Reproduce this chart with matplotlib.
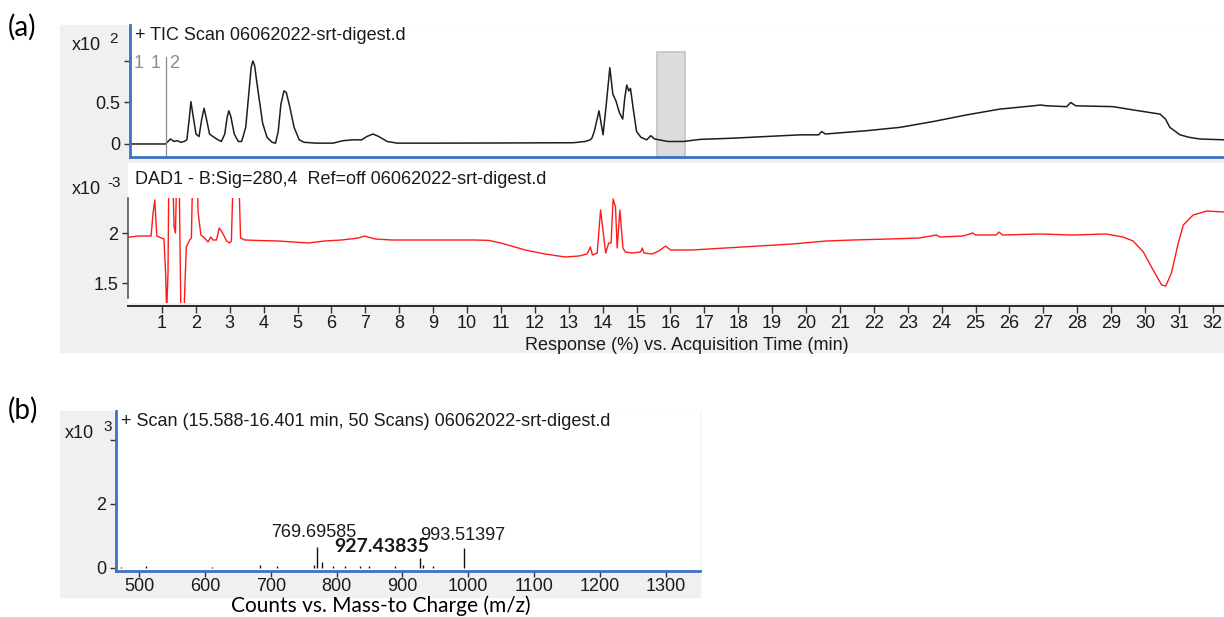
import matplotlib
matplotlib.use("Agg")
import matplotlib.pyplot as plt
from matplotlib.patches import Rectangle

# ── data ────────────────────────────────────────────────────────────────────
# TIC (x10^2)
tic_t = [0, 1.05, 1.12, 1.2, 1.3, 1.4, 1.5, 1.6, 1.68, 1.75, 1.8, 1.86, 1.95, 2.04,
         2.12, 2.19, 2.26, 2.35, 2.45, 2.6, 2.7, 2.8, 2.87, 2.92, 2.98, 3.08, 3.2,
         3.3, 3.42, 3.52, 3.58, 3.63, 3.68, 3.78, 3.92, 4.05, 4.2, 4.3, 4.38, 4.46,
         4.55, 4.62, 4.72, 4.85, 5.0, 5.15, 5.5, 6.0, 6.3, 6.6, 6.85, 7.0, 7.18,
         7.35, 7.6, 7.9, 9.0, 11.0, 13.1, 13.45, 13.6, 13.65, 13.72, 13.86, 13.98,
         14.08, 14.18, 14.27, 14.36, 14.46, 14.56, 14.62, 14.68, 14.74, 14.79,
         14.88, 14.97, 15.1, 15.27, 15.39, 15.5, 15.9, 16.35, 16.84, 17.83, 18.8,
         19.8, 20.35, 20.44, 20.55, 21.77, 22.75, 23.73, 24.72, 25.7, 26.7, 26.9,
         27.1, 27.68, 27.8, 27.95, 29.05, 29.65, 30.44, 30.6, 30.73, 31.03, 31.3,
         31.62, 32.33]
tic_y = [0, 0, 0.03, 0.06, 0.03, 0.04, 0.02, 0.03, 0.05, 0.3, 0.51, 0.35, 0.12, 0.09,
         0.3, 0.43, 0.3, 0.12, 0.09, 0.05, 0.03, 0.12, 0.32, 0.40, 0.33, 0.12, 0.03,
         0.03, 0.2, 0.65, 0.92, 1.0, 0.95, 0.65, 0.25, 0.08, 0.02, 0.01, 0.15, 0.48,
         0.64, 0.62, 0.45, 0.2, 0.05, 0.02, 0.01, 0.01, 0.04, 0.05, 0.05, 0.09, 0.12,
         0.09, 0.03, 0.01, 0.01, 0.012, 0.015, 0.03, 0.05, 0.07, 0.15, 0.40, 0.11,
         0.5, 0.92, 0.6, 0.52, 0.38, 0.30, 0.55, 0.71, 0.64, 0.67,
         0.4, 0.15, 0.08, 0.05, 0.10, 0.06, 0.03, 0.03, 0.055, 0.07, 0.09,
         0.11, 0.11, 0.15, 0.12, 0.16, 0.2, 0.27, 0.35, 0.42, 0.46, 0.47,
         0.46, 0.45, 0.50, 0.46, 0.45, 0.41, 0.36, 0.30, 0.20, 0.11, 0.08,
         0.06, 0.05]

# DAD1 280 nm (x10^-3)
dad_t = [0.0, 0.3, 0.68, 0.74, 0.79, 0.85, 0.98, 1.06, 1.11, 1.14, 1.18, 1.21, 1.30,
         1.36, 1.40, 1.45, 1.50, 1.56, 1.65, 1.72, 1.82, 1.87, 1.92, 2.02, 2.07,
         2.15, 2.26, 2.36, 2.44, 2.51, 2.61, 2.69, 2.79, 2.91, 3.00, 3.05, 3.12,
         3.25, 3.32, 3.45, 3.84, 4.43, 5.32, 5.8, 6.3, 6.8, 6.97, 7.29, 7.78, 9.26,
         10.24, 10.64, 11.0, 11.72, 12.3, 12.9, 13.3, 13.54, 13.64, 13.7, 13.84,
         13.94, 14.0, 14.09, 14.18, 14.25, 14.31, 14.38, 14.43, 14.51, 14.6, 14.67,
         14.87, 15.12, 15.17, 15.22, 15.46, 15.66, 15.86, 16.0, 16.64, 17.63, 18.62,
         19.6, 20.59, 21.38, 22.46, 23.35, 23.84, 23.95, 24.63, 24.92, 25.0, 25.61,
         25.69, 25.8, 26.89, 27.87, 28.86, 29.35, 29.65, 29.95, 30.24, 30.49, 30.61,
         30.78, 30.98, 31.13, 31.42, 31.82, 32.33]
dad_y = [1.957, 1.97, 1.97, 2.2, 2.33, 1.97, 1.95, 1.94, 1.6, 1.2, 1.6, 2.8, 2.8,
         2.06, 2.0, 2.8, 2.8, 1.2, 1.2, 1.86, 1.93, 1.95, 2.8, 2.8, 2.2,
         1.98, 1.95, 1.91, 1.96, 1.93, 1.93, 2.05, 2.0, 1.92, 1.90, 1.92, 2.8,
         2.8, 1.95, 1.93, 1.925, 1.92, 1.90, 1.92, 1.93, 1.95, 1.97, 1.94, 1.93, 1.93,
         1.93, 1.926, 1.90, 1.83, 1.79, 1.76, 1.77, 1.79, 1.86, 1.78, 1.80,
         2.23, 2.06, 1.80, 1.90, 1.90, 2.34, 2.26, 1.85, 2.23, 1.85, 1.81,
         1.80, 1.81, 1.85, 1.80, 1.79, 1.82, 1.87, 1.83, 1.83, 1.85, 1.87,
         1.89, 1.92, 1.93, 1.94, 1.95, 1.98, 1.96, 1.97, 2.0, 1.98, 1.98,
         2.01, 1.98, 1.99, 1.98, 1.99, 1.96, 1.92, 1.81, 1.63, 1.48, 1.47,
         1.60, 1.90, 2.08, 2.18, 2.22, 2.21]

# mass spectrum (x10^3)
ms_mz = [472.6, 510.7, 611, 684, 710, 766, 769.69585, 778.5, 795, 813.5, 836, 850,
         888, 927.43835, 932, 946, 993.51397]
ms_int = [0.04, 0.06, 0.04, 0.08, 0.06, 0.08, 0.66, 0.2, 0.05, 0.05, 0.05, 0.07,
          0.05, 0.31, 0.1, 0.06, 0.62]
ms_labels = {769.69585: "769.69585", 927.43835: "927.43835", 993.51397: "993.51397"}

scan_range = (15.588, 16.401)
time_ticks = list(range(1, 33))
mz_ticks = [500, 600, 700, 800, 900, 1000, 1100, 1200, 1300]

# ── style ───────────────────────────────────────────────────────────────────
W, H = 1224, 617
BLUE = "#3d6fc6"
GREY_BG = "#f0f0f0"
TXT = "#1a1a1a"
INST = ["Liberation Sans", "DejaVu Sans"]
DOC = ["Lato", "DejaVu Sans"]
FS = 12.5
TICK_FS = 13

plt.rcParams["font.family"] = INST
plt.rcParams["font.size"] = FS


def fx(x):
    return x / W


def fy(y):
    return 1 - y / H


def frame(x0, y0, x1, y1):
    return [fx(x0), fy(y1), fx(x1) - fx(x0), fy(y0) - fy(y1)]


fig = plt.figure(figsize=(W / 100, H / 100), dpi=100)

# grey panel backgrounds
fig.add_artist(Rectangle((fx(60), fy(352)), fx(1224) - fx(60), fy(25) - fy(352),
                         transform=fig.transFigure, color=GREY_BG, zorder=-1))
fig.add_artist(Rectangle((fx(60), fy(597)), fx(700) - fx(60), fy(411) - fy(597),
                         transform=fig.transFigure, color=GREY_BG, zorder=-1))

# ── (a) top: TIC ────────────────────────────────────────────────────────────
ax1 = fig.add_axes(frame(130, 25, 1224, 157))
ax1.plot(tic_t, tic_y, color="#1e1e1e", lw=1.1)
ax1.set_xlim(0, 32.33)
ax1.set_ylim(-0.157, 1.434)
band_top = (157 - 52) / (157 - 25)
ax1.axvspan(*scan_range, ymin=0, ymax=band_top, facecolor="#dcdcdc",
            edgecolor="#c4c4c4", lw=1.2, zorder=0)
ax1.axvline(1.05, ymin=(157 - 155) / 132, ymax=(157 - 57) / 132, color="#8c8c8c", lw=0.9)
for xp, s in [(139, "1"), (156, "1"), (174, "2")]:
    fig.text(fx(xp), fy(64), s, color="#8c8c8c", ha="center", va="center", fontsize=13)
for s in ["top", "right"]:
    ax1.spines[s].set_visible(False)
for s in ["left", "bottom"]:
    ax1.spines[s].set_color(BLUE)
    ax1.spines[s].set_linewidth(2)
ax1.set_xticks([])
ax1.set_yticks([0, 0.5, 1.0])
ax1.set_yticklabels(["0", "0.5", ""])
ax1.tick_params(axis="y", length=4, width=1, color="#333333", pad=3, labelcolor=TXT,
                labelsize=TICK_FS)
fig.text(fx(135), fy(35), "+ TIC Scan 06062022-srt-digest.d", ha="left", va="center",
         color=TXT, fontsize=13)
fig.text(fx(101), fy(45), "x10", ha="right", va="center", color=TXT, fontsize=13)
fig.text(fx(109), fy(39), "2", ha="left", va="center", color=TXT, fontsize=11)

# ── (a) bottom: DAD ─────────────────────────────────────────────────────────
ax2 = fig.add_axes(frame(128, 163, 1224, 303))
ax2.set_xlim(0, 32.33)
ax2.set_ylim(1.30, 2.70)
line, = ax2.plot(dad_t, dad_y, color="#ff1a1a", lw=1.0)
clip_frac = (2.35 - 1.30) / (2.70 - 1.30)
line.set_clip_path(Rectangle((0, 0), 1, clip_frac, transform=ax2.transAxes))
for s in ["top", "right"]:
    ax2.spines[s].set_visible(False)
ax2.spines["left"].set_bounds(1.35, 2.35)
ax2.spines["left"].set_color("#555555")
ax2.spines["left"].set_linewidth(1.2)
ax2.spines["bottom"].set_color("#2a2a2a")
ax2.spines["bottom"].set_linewidth(1.4)
ax2.spines["bottom"].set_position(("outward", 2))
ax2.set_yticks([1.5, 2])
ax2.set_yticklabels(["1.5", "2"])
ax2.set_xticks(time_ticks)
ax2.tick_params(axis="y", length=4, width=1, color="#333333", pad=3, labelcolor=TXT,
                labelsize=TICK_FS)
ax2.tick_params(axis="x", length=5, width=1, color="#333333", pad=2, labelcolor=TXT,
                labelsize=TICK_FS)
ax2.set_xlabel("Response (%) vs. Acquisition Time (min)", labelpad=0, color=TXT,
               fontsize=13)
ax2.xaxis.set_label_coords(0.51, -0.24)
fig.text(fx(135), fy(180), "DAD1 - B:Sig=280,4  Ref=off 06062022-srt-digest.d",
         ha="left", va="center", color=TXT, fontsize=13)
fig.text(fx(101), fy(189), "x10", ha="right", va="center", color=TXT, fontsize=13)
fig.text(fx(107), fy(183), "-3", ha="left", va="center", color=TXT, fontsize=11)

# ── (b) mass spectrum ───────────────────────────────────────────────────────
ax3 = fig.add_axes(frame(116, 411, 700, 571))
ax3.vlines(ms_mz, 0, ms_int, color="#111111", lw=1.0)
ax3.set_xlim(465, 1352)
ax3.set_ylim(-0.094, 4.906)
for s in ["top", "right"]:
    ax3.spines[s].set_visible(False)
for s in ["left", "bottom"]:
    ax3.spines[s].set_color(BLUE)
    ax3.spines[s].set_linewidth(2)
ax3.set_xticks(mz_ticks)
ax3.set_yticks([0, 2, 4])
ax3.set_yticklabels(["0", "2", ""])
ax3.tick_params(axis="y", length=4, width=1, color="#333333", pad=3, labelcolor=TXT,
                labelsize=TICK_FS)
ax3.tick_params(axis="x", length=4, width=1, color="#333333", pad=1, labelcolor=TXT,
                labelsize=TICK_FS)
for mz, inten in zip(ms_mz, ms_int):
    if mz in ms_labels:
        if mz == 927.43835:
            ax3.annotate(ms_labels[mz], (mz, inten), xytext=(-28, 8),
                         textcoords="offset points", ha="center", va="center",
                         fontsize=14, fontweight="bold", family=DOC, color=TXT)
        elif mz == 769.69585:
            ax3.annotate(ms_labels[mz], (mz, inten), xytext=(-2, 10),
                         textcoords="offset points", ha="center", va="center",
                         fontsize=13, color=TXT)
        else:
            ax3.annotate(ms_labels[mz], (mz, inten), xytext=(-1, 9),
                         textcoords="offset points", ha="center", va="center",
                         fontsize=13, color=TXT)
fig.text(fx(121), fy(421), "+ Scan (15.588-16.401 min, 50 Scans) 06062022-srt-digest.d",
         ha="left", va="center", color=TXT, fontsize=13)
fig.text(fx(94), fy(433), "x10", ha="right", va="center", color=TXT, fontsize=13)
fig.text(fx(103), fy(427), "3", ha="left", va="center", color=TXT, fontsize=11)
fig.text(fx(381), fy(606), "Counts vs. Mass-to Charge (m/z)", ha="center", va="center",
         family=DOC, fontsize=15, color="#000000")

# panel letters
fig.text(fx(8), fy(27), "(a)", ha="left", va="center", family=DOC, fontsize=20,
         color="#000000")
fig.text(fx(8), fy(410), "(b)", ha="left", va="center", family=DOC, fontsize=20,
         color="#000000")

fig.savefig("out.png", dpi=100)
